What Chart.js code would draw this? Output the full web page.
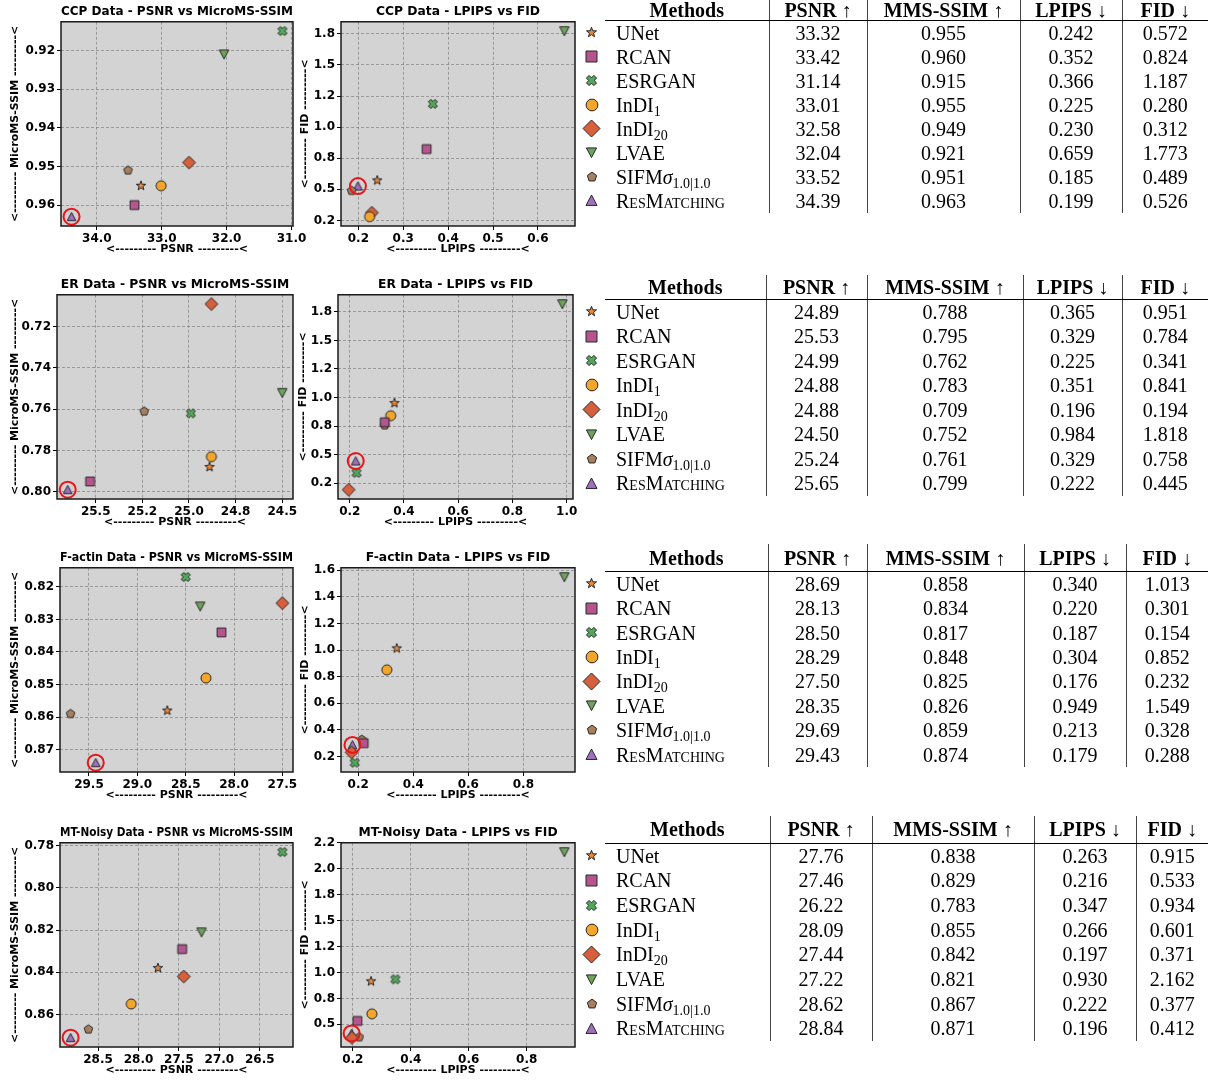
<!DOCTYPE html>
<html>
<head>
<meta charset="utf-8">
<script src="https://cdn.jsdelivr.net/npm/chart.js@4.4.1/dist/chart.umd.min.js"></script>
<style>
    body { margin: 0; background: #fff; }
    #page { position: relative; width: 1210px; height: 1080px; overflow: hidden; background: #fff; }
    canvas.plot { position: absolute; }
    table.res {
        position: absolute; left: 578px; border-collapse: collapse; table-layout: fixed;
        font-family: "Liberation Serif", "Times New Roman", serif; font-size: 20px; color: #000;
    }
    table.res td { padding: 0; white-space: nowrap; text-align: center; vertical-align: middle; line-height: 20px; }
    table.res td.hd { font-weight: bold; }
    table.res td.hd span { font-weight: normal; }
    table.res td.hr { border-bottom: 1px solid #000; }
    table.res td.sep { border-left: 1px solid #444; }
    table.res td.nm { text-align: left; padding-left: 11px; }
    table.res td.mk canvas { display: block; margin: 0 auto; }
    sub { font-size: 14px; vertical-align: -4px; line-height: 0; }
    .sc { font-variant: small-caps; }
</style>
</head>
<body>
<div id="page"></div>
<script>

// ==========================================
// Data
// ==========================================

const methods = ["UNet", "RCAN", "ESRGAN", "InDI1", "InDI20", "LVAE", "SIFM", "ResMatching"];

const methodLabels = [
    "UNet", "RCAN", "ESRGAN", "InDI<sub>1</sub>", "InDI<sub>20</sub>", "LVAE",
    "SIFM<i>σ</i><sub>1.0|1.0</sub>", '<span class="sc">ResMatching</span>'
];

const dataNames = ["CCP", "ER", "F-actin", "MT-Noisy"];

const ccpPSNR  = [33.32, 33.42, 31.14, 33.01, 32.58, 32.04, 33.52, 34.39];
const ccpSSIM  = [0.955, 0.960, 0.915, 0.955, 0.949, 0.921, 0.951, 0.963];
const ccpLPIPS = [0.242, 0.352, 0.366, 0.225, 0.230, 0.659, 0.185, 0.199];
const ccpFID   = [0.572, 0.824, 1.187, 0.280, 0.312, 1.773, 0.489, 0.526];

const erPSNR  = [24.89, 25.53, 24.99, 24.88, 24.88, 24.50, 25.24, 25.65];
const erSSIM  = [0.788, 0.795, 0.762, 0.783, 0.709, 0.752, 0.761, 0.799];
const erLPIPS = [0.365, 0.329, 0.225, 0.351, 0.196, 0.984, 0.329, 0.222];
const erFID   = [0.951, 0.784, 0.341, 0.841, 0.194, 1.818, 0.758, 0.445];

const factinPSNR  = [28.69, 28.13, 28.50, 28.29, 27.50, 28.35, 29.69, 29.43];
const factinSSIM  = [0.858, 0.834, 0.817, 0.848, 0.825, 0.826, 0.859, 0.874];
const factinLPIPS = [0.340, 0.220, 0.187, 0.304, 0.176, 0.949, 0.213, 0.179];
const factinFID   = [1.013, 0.301, 0.154, 0.852, 0.232, 1.549, 0.328, 0.288];

const mtPSNR  = [27.76, 27.46, 26.22, 28.09, 27.44, 27.22, 28.62, 28.84];
const mtSSIM  = [0.838, 0.829, 0.783, 0.855, 0.842, 0.821, 0.867, 0.871];
const mtLPIPS = [0.263, 0.216, 0.347, 0.266, 0.197, 0.930, 0.222, 0.196];
const mtFID   = [0.915, 0.533, 0.934, 0.601, 0.371, 2.162, 0.377, 0.412];

// tick spacing per dataset
const psnrStep  = [1, 0.25, 0.5, 0.5];
const ssimStep  = [0.01, 0.02, 0.01, 0.02];
const lpipsStep = [0.1, 0.2, 0.2, 0.2];
const fidStep   = [0.25, 0.25, 0.2, 0.25];

const tableHeads = ["PSNR <span>↑</span>", "MMS-SSIM <span>↑</span>", "LPIPS <span>↓</span>", "FID <span>↓</span>"];


// ==========================================
// Layout
// ==========================================

const rowTop = [0, 273, 546, 821];
const leftAxisW = [61, 57, 60, 60];
const rightAxisW = [46, 43, 46, 46];
const rightTitlePad = [3.4, 1.4, 3.4, 3.4];
const rightPadC2 = [20, 22, 20, 20];

const tableLayout = [
    { top: 0,     head: 20,   row: 24,   seps: [769, 867, 1020, 1122] },
    { top: 275,   head: 24.5, row: 24.5, seps: [766, 867, 1023, 1122] },
    { top: 544,   head: 27.6, row: 24.4, seps: [768, 867, 1024, 1126] },
    { top: 816,   head: 27.3, row: 24.7, seps: [770, 872, 1034, 1136] }
];


// ==========================================
// Markers
// ==========================================

const markerShapes = ["star", "square", "xfill", "circle", "diamond", "triDown", "pentagon", "triUp"];
const markerColors = ["#e8873a", "#b5558e", "#52a85a", "#f4a62a", "#d65f3c", "#6fa35c", "#a6805e", "#a070c0"];
const plotSizes  = [5.0, 4.4, 4.7, 5.0, 6.4, 4.7, 4.5, 4.3];
const tableSizes = [5.3, 5.5, 5.3, 5.9, 8.5, 5.1, 4.9, 5.5];

function markerCanvas(shape, color, r) {

    const s = Math.ceil(r * 2 + 4);
    const cv = document.createElement("canvas");
    cv.width = s;
    cv.height = s;
    const c = cv.getContext("2d");
    c.translate(s / 2, s / 2);

    let pts = null;

    if (shape === "square") pts = [[-r, -r], [r, -r], [r, r], [-r, r]];
    if (shape === "diamond") pts = [[0, -r], [r, 0], [0, r], [-r, 0]];
    if (shape === "triUp") pts = [[0, -r], [r, r * 0.9], [-r, r * 0.9]];
    if (shape === "triDown") pts = [[0, r], [r, -r * 0.9], [-r, -r * 0.9]];

    if (shape === "pentagon") {
        pts = [];
        for (let k = 0; k < 5; k++) {
            const a = -Math.PI / 2 + k * 2 * Math.PI / 5;
            pts.push([r * Math.cos(a), r * Math.sin(a)]);
        }
    }

    if (shape === "star") {
        pts = [];
        for (let k = 0; k < 10; k++) {
            const a = -Math.PI / 2 + k * Math.PI / 5;
            const rr = k % 2 === 0 ? r : r * 0.4;
            pts.push([rr * Math.cos(a), rr * Math.sin(a)]);
        }
    }

    if (shape === "xfill") {
        const w = r * 0.36;
        const plus = [[w, w], [w, r], [-w, r], [-w, w], [-r, w], [-r, -w], [-w, -w], [-w, -r], [w, -r], [w, -w], [r, -w], [r, w]];
        const ca = Math.cos(Math.PI / 4), sa = Math.sin(Math.PI / 4);
        pts = plus.map(p => [p[0] * ca - p[1] * sa, p[0] * sa + p[1] * ca]);
    }

    c.beginPath();
    if (shape === "circle") {
        c.arc(0, 0, r, 0, Math.PI * 2);
    } else {
        c.moveTo(pts[0][0], pts[0][1]);
        pts.slice(1).forEach(p => c.lineTo(p[0], p[1]));
        c.closePath();
    }
    c.fillStyle = color;
    c.fill();
    c.lineWidth = 1;
    c.strokeStyle = "#262626";
    c.stroke();

    return cv;
}

const plotMarkers = markerShapes.map((m, i) => markerCanvas(m, markerColors[i], plotSizes[i]));


// ==========================================
// Helpers
// ==========================================

// matplotlib style formatting (round half to even)
function fmt(v, d) {
    const p = Math.pow(10, d);
    const s = v * p;
    const f = Math.floor(s);
    let r = Math.round(s);
    if (Math.abs(s - f - 0.5) < 1e-6) r = (f % 2 === 0) ? f : f + 1;
    return (r / p).toFixed(d);
}

const framePlugin = {
    id: "frame",
    beforeDraw(chart) {
        const a = chart.chartArea, c = chart.ctx;
        c.save();
        c.fillStyle = "#d3d3d3";
        c.fillRect(a.left, a.top, a.right - a.left, a.bottom - a.top);
        c.restore();
    },
    afterDraw(chart) {
        const a = chart.chartArea, c = chart.ctx;
        c.save();
        c.strokeStyle = "#1a1a1a";
        c.lineWidth = 1.5;
        c.strokeRect(a.left, a.top, a.right - a.left, a.bottom - a.top);
        c.restore();
    }
};

function axis(pos, label, vals, step, dec, rev, fitSize, titlePad) {

    const lo = Math.min(...vals), hi = Math.max(...vals);
    const span = hi - lo;

    return {
        type: "linear",
        position: pos,
        reverse: rev,
        min: lo - span * 0.05,
        max: hi + span * 0.05,
        afterBuildTicks(s) {
            const t = [];
            for (let k = Math.ceil(s.min / step - 1e-9); k * step <= s.max + 1e-9; k++) {
                t.push({ value: +(k * step).toFixed(6) });
            }
            s.ticks = t;
        },
        afterFit(s) {
            if (pos === "left") s.width = fitSize;
            else s.height = fitSize;
            s.paddingLeft = 0;
            s.paddingRight = 0;
            s.paddingTop = 0;
            s.paddingBottom = 0;
        },
        ticks: {
            callback: v => fmt(v, dec),
            font: { family: "DejaVu Sans", weight: "bold", size: 12 },
            color: "#000",
            padding: 2,
            maxRotation: 0,
            minRotation: 0,
            autoSkip: false
        },
        grid: {
            color: "rgba(120,120,120,0.8)",
            lineWidth: 0.8,
            tickLength: 4,
            tickColor: "#000",
            tickWidth: 1
        },
        border: { display: false, dash: [3, 2] },
        title: {
            display: true,
            text: label,
            font: { family: "DejaVu Sans", weight: "bold", size: 11 },
            color: "#000",
            padding: { top: titlePad, bottom: titlePad }
        }
    };
}


// ==========================================
// Scatter panels
// ==========================================

function drawPanel(p) {

    const cv = document.createElement("canvas");
    cv.className = "plot";
    cv.width = p.width;
    cv.height = 262;
    cv.style.left = p.left + "px";
    cv.style.top = p.top + "px";
    document.getElementById("page").appendChild(cv);

    const sets = methods.map((m, i) => ({
        label: m,
        data: [{ x: p.xs[i], y: p.ys[i] }],
        pointStyle: plotMarkers[i],
        pointRadius: 5
    }));

    // red ring on ResMatching
    sets.unshift({
        label: "best",
        data: [{ x: p.xs[7], y: p.ys[7] }],
        pointStyle: "circle",
        pointRadius: 8,
        borderColor: "#e8161b",
        borderWidth: 2,
        backgroundColor: "rgba(0,0,0,0)"
    });

    new Chart(cv, {
        type: "scatter",
        data: { datasets: sets },
        options: {
            responsive: false,
            animation: false,
            devicePixelRatio: 1,
            clip: false,
            layout: { padding: { left: 0, right: p.rightPad, top: 0, bottom: 0 } },
            plugins: {
                legend: { display: false },
                tooltip: { enabled: false },
                title: {
                    display: true,
                    fullSize: false,
                    text: p.title,
                    color: "#000",
                    font: { family: "DejaVu Sans", weight: "bold", size: 12.3 },
                    padding: { top: 4, bottom: 3 }
                }
            },
            scales: {
                x: axis("bottom", p.xLabel, p.xs, p.xStep, p.xDec, p.xRev, 36, 6.4),
                y: axis("left", p.yLabel, p.ys, p.yStep, p.yDec, p.yRev, p.yW, p.yPad)
            }
        },
        plugins: [framePlugin]
    });
}


// ==========================================
// Tables
// ==========================================

function drawTable(k, vals) {

    const L = tableLayout[k];
    const cols = [27, L.seps[0] - 605, L.seps[1] - L.seps[0], L.seps[2] - L.seps[1], L.seps[3] - L.seps[2], 1208 - L.seps[3]];

    let html = "<colgroup>" + cols.map(w => `<col style="width:${w}px">`).join("") + "</colgroup>";

    html += `<tr style="height:${L.head}px"><td></td><td class="hd hr">Methods</td>` +
        tableHeads.map(h => `<td class="hd hr sep">${h}</td>`).join("") + "</tr>";

    methods.forEach((m, i) => {
        html += `<tr style="height:${L.row}px"><td class="mk"></td><td class="nm">${methodLabels[i]}</td>` +
            vals.map((a, j) => `<td class="sep">${a[i].toFixed(j === 0 ? 2 : 3)}</td>`).join("") + "</tr>";
    });

    const tb = document.createElement("table");
    tb.className = "res";
    tb.style.top = L.top + "px";
    tb.style.width = cols.reduce((a, b) => a + b, 0) + "px";
    tb.innerHTML = html;
    document.getElementById("page").appendChild(tb);

    tb.querySelectorAll("td.mk").forEach((td, i) => {
        td.appendChild(markerCanvas(markerShapes[i], markerColors[i], tableSizes[i]));
    });
}


// ==========================================
// Build page
// ==========================================

const allData = [
    [ccpPSNR, ccpSSIM, ccpLPIPS, ccpFID],
    [erPSNR, erSSIM, erLPIPS, erFID],
    [factinPSNR, factinSSIM, factinLPIPS, factinFID],
    [mtPSNR, mtSSIM, mtLPIPS, mtFID]
];

allData.forEach((d, k) => {

    drawPanel({
        title: dataNames[k] + " Data - PSNR vs MicroMS-SSIM",
        left: 0, top: rowTop[k], width: 310, rightPad: 310 - 293,
        xs: d[0], ys: d[1],
        xLabel: "<--------- PSNR ---------<",
        yLabel: "<--------- MicroMS-SSIM ---------<",
        xStep: psnrStep[k], xDec: 1, xRev: true,
        yStep: ssimStep[k], yDec: 2, yRev: true,
        yW: leftAxisW[k], yPad: 8.4
    });

    drawPanel({
        title: dataNames[k] + " Data - LPIPS vs FID",
        left: 295, top: rowTop[k], width: 300, rightPad: rightPadC2[k],
        xs: d[2], ys: d[3],
        xLabel: "<--------- LPIPS ---------<",
        yLabel: "<--------- FID ---------<",
        xStep: lpipsStep[k], xDec: 1, xRev: false,
        yStep: fidStep[k], yDec: 1, yRev: false,
        yW: rightAxisW[k], yPad: rightTitlePad[k]
    });

    drawTable(k, d);
});

</script>
</body>
</html>
